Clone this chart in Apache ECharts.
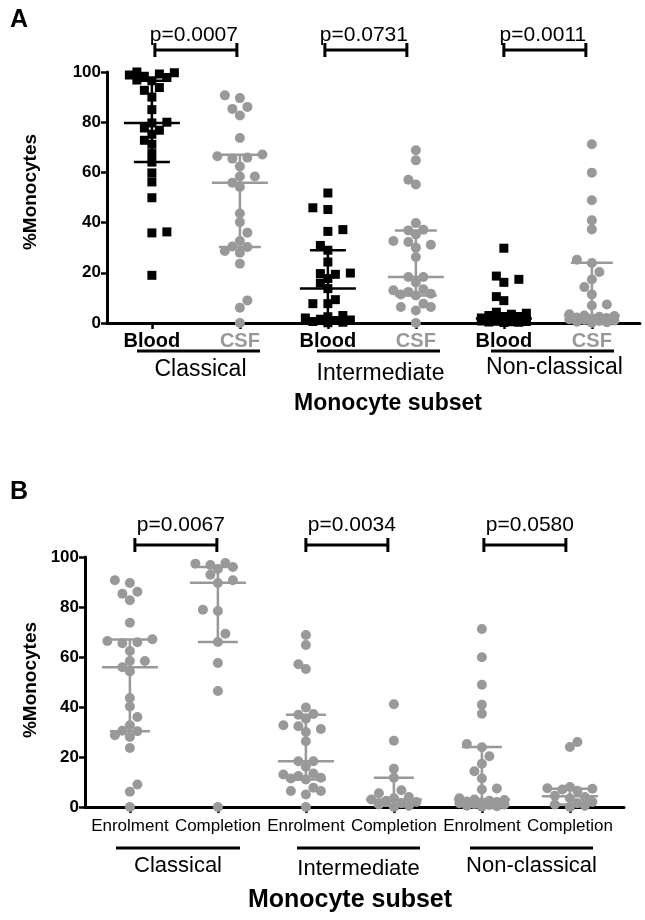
<!DOCTYPE html>
<html>
<head>
<meta charset="utf-8">
<script src="https://cdn.jsdelivr.net/npm/echarts@6/dist/echarts.min.js"></script>
<style>html,body{margin:0;padding:0;background:#fff}#c{width:645px;height:920px}</style>
</head>
<body>
<div id="c"></div>
<script>
// ---------- DATA ----------
const categoriesA = ['Blood', 'CSF', 'Blood', 'CSF', 'Blood', 'CSF'];
const categoriesB = ['Enrolment', 'Completion', 'Enrolment', 'Completion', 'Enrolment', 'Completion'];
const groupNames = ['Classical', 'Intermediate', 'Non-classical'];
const pValuesA = ['p=0.0007', 'p=0.0731', 'p=0.0011'];
const pValuesB = ['p=0.0067', 'p=0.0034', 'p=0.0580'];
const yTicks = [0, 20, 40, 60, 80, 100];

const classicalBlood = [100, 99.7, 99.2, 98.8, 98.3, 97.8, 96.8, 96.5, 93.8, 92.7, 90, 85, 80, 79.7, 77.7, 76.8, 75.2, 72.8, 71.2, 67.5, 64.1, 59.8, 56.2, 49.9, 36.3, 35.9, 19];
const classicalCSF = [90.7, 89.6, 86.1, 85.3, 82.7, 73.7, 67.1, 66.4, 65.9, 65.5, 62.4, 58.4, 58.4, 55.9, 54.2, 43.6, 40.2, 36, 32.7, 30.5, 30.3, 28.7, 28, 23.6, 9, 6.1, 0];
const intermediateBlood = [51.8, 45.9, 45.2, 37.2, 36.5, 30.9, 29, 24.3, 19.9, 19.7, 19.4, 17.7, 15.9, 13.7, 9.3, 7.7, 7.7, 3, 2.5, 2, 1.5, 1.2, 1, 0.6, 0.3, 0.1];
const intermediateCSF = [68.8, 64.8, 57.1, 55.2, 39.8, 37.2, 36.9, 35.3, 32.7, 32.3, 31.2, 30, 26.3, 18.3, 18.3, 16.1, 13.4, 13, 12.4, 11.7, 11.4, 11, 7.7, 6.4, 6.4, 5, 0];
const nonClassicalBlood = [29.8, 18.7, 17.4, 16.2, 10.5, 8.9, 4.3, 3.9, 3.5, 3, 2.5, 2.2, 2, 1.8, 1.5, 1.3, 1.1, 1, 0.9, 0.8, 0.7, 0.6, 0.5, 0.4, 0.3, 0.2];
const nonClassicalCSF = [71.2, 59.9, 48.9, 40.9, 37.3, 25.2, 23.9, 20.3, 17.3, 14.3, 11.4, 7.4, 7, 3.5, 3, 2.8, 2.5, 2.2, 2, 1.8, 1.5, 1.2, 1, 0.8, 0.5, 0.3, 0.1];

const classicalCompletion = [97.6, 97.3, 96.8, 96, 95.2, 92.9, 90.7, 89.6, 78.9, 78.4, 69.3, 66, 57.6, 46.4, 0];
const intermediateCompletion = [41.1, 26.5, 15.3, 11.7, 6.7, 5.5, 4, 3.5, 3, 2.5, 2, 1.5, 1, 0.5, 0];
const nonClassicalCompletion = [26, 24, 8, 7.5, 7.3, 7, 6.5, 4.5, 4, 3.5, 2, 1.5, 1, 0.5, 0];

// median, lower quartile, upper quartile per group
const medianA = [79.7, 55.9, 13.7, 18.3, 1.8, 3];
const q1A = [64.1, 30.3, 1.2, 11, 0.6, 1];
const q3A = [96.5, 67, 29, 36.9, 3.9, 24];
const medianB = [55.9, 89.7, 18.3, 3, 3, 4.3];
const q1B = [30.3, 66, 11, 0.5, 1, 1];
const q3B = [67, 96, 36.9, 11.7, 24, 7.3];

// ---------- LAYOUT ----------
const GA = {left: 107, top: 72, width: 533, height: 251, xmin: -0.51, xmax: 5.547};
const GB = {left: 85, top: 557, width: 539, height: 250, xmin: -0.51, xmax: 5.615};
const BLACK = '#000000', GRAY = '#999999';
const FONT = "'Liberation Sans', Arial, sans-serif";

function catPx(g) { return g.width / (g.xmax - g.xmin); }
function xPix(g, i) { return g.left + (i - g.xmin) * catPx(g); }

// beeswarm layout (pixel offsets) computed from the values
function swarmOffsets(vals, pxv) {
  const step = 7.5, diam = 8.5, maxK = 3;
  const order = vals.map((v, i) => i).sort((a, b) => vals[a] - vals[b]);
  const placed = [];
  const off = new Array(vals.length);
  let flip = 1;
  order.forEach(i => {
    const y = vals[i] * pxv;
    let chosen = null, best = -1, bestX = 0;
    for (let k = 0; k <= maxK && chosen === null; k++) {
      const cands = k === 0 ? [0] : [flip * k * step, -flip * k * step];
      for (const x of cands) {
        let md = Infinity;
        for (const p of placed) { const d = Math.hypot(p.x - x, p.y - y); if (d < md) md = d; }
        if (md >= diam) { chosen = x; break; }
        if (md > best) { best = md; bestX = x; }
      }
    }
    if (chosen === null) chosen = bestX;
    if (chosen !== 0) flip = -flip;
    off[i] = chosen;
    placed.push({x: chosen, y: y});
  });
  return off;
}

function points(groups, cats, g) {
  const pxv = g.height / 100, cp = catPx(g);
  const out = [];
  groups.forEach((vals, k) => {
    const off = swarmOffsets(vals, pxv);
    vals.forEach((v, i) => out.push([cats[k] + off[i] / cp, v]));
  });
  return out;
}

const groupsA = [classicalBlood, classicalCSF, intermediateBlood, intermediateCSF, nonClassicalBlood, nonClassicalCSF];
const groupsB = [classicalCSF, classicalCompletion, intermediateCSF, intermediateCompletion, nonClassicalCSF, nonClassicalCompletion];

function errData(cats, med, lo, hi) { return cats.map(c => [c, med[c], lo[c], hi[c]]); }

function errSeries(xi, yi, data, color, mw, cw) {
  return {
    type: 'custom', xAxisIndex: xi, yAxisIndex: yi, z: 5, silent: true,
    encode: {x: 0, y: [1, 2, 3]},
    data: data,
    renderItem: function (params, api) {
      const x = api.value(0);
      const pm = api.coord([x, api.value(1)]);
      const pl = api.coord([x, api.value(2)]);
      const ph = api.coord([x, api.value(3)]);
      const st = {stroke: color, lineWidth: 2.5};
      return {type: 'group', children: [
        {type: 'line', shape: {x1: pl[0], y1: pl[1], x2: ph[0], y2: ph[1]}, style: st},
        {type: 'line', shape: {x1: pl[0] - cw, y1: pl[1], x2: pl[0] + cw, y2: pl[1]}, style: st},
        {type: 'line', shape: {x1: ph[0] - cw, y1: ph[1], x2: ph[0] + cw, y2: ph[1]}, style: st},
        {type: 'line', shape: {x1: pm[0] - mw, y1: pm[1], x2: pm[0] + mw, y2: pm[1]}, style: st}
      ]};
    }
  };
}

function xAxisDef(gi, g, labelFmt, labelStyle, margin, rich) {
  return {
    type: 'value', gridIndex: gi, min: g.xmin, max: g.xmax,
    axisLine: {onZero: false, lineStyle: {color: BLACK, width: 3}},
    axisTick: {show: true, customValues: [0, 1, 2, 3, 4, 5], length: 6, lineStyle: {color: BLACK, width: 2.5}},
    axisLabel: Object.assign({customValues: [0, 1, 2, 3, 4, 5], margin: margin, formatter: labelFmt, rich: rich}, labelStyle),
    splitLine: {show: false}
  };
}
function yAxisDef(gi) {
  return {
    type: 'value', gridIndex: gi, min: 0, max: 100, interval: 20,
    axisLine: {show: true, onZero: false, lineStyle: {color: BLACK, width: 3}},
    axisTick: {show: true, length: 6, lineStyle: {color: BLACK, width: 2.5}},
    axisLabel: {color: BLACK, fontWeight: 'bold', fontSize: 17, fontFamily: FONT, margin: 6,
      formatter: v => yTicks.indexOf(v) >= 0 ? String(v) : ''},
    splitLine: {show: false}
  };
}

const graphics = [];
function txt(x, y, text, size, weight, color, opts) {
  graphics.push(Object.assign({type: 'text', x: x, y: y, style: {x: 0, y: 0, text: text, fill: color || BLACK,
    font: (weight || 'normal') + ' ' + size + 'px ' + FONT, textAlign: 'center', textVerticalAlign: 'middle'}}, opts || {}));
}
function line(x1, y1, x2, y2, w) {
  graphics.push({type: 'line', shape: {x1: x1, y1: y1, x2: x2, y2: y2}, style: {stroke: BLACK, lineWidth: w || 3}});
}
function bracket(x1, x2, y) {
  line(x1, y, x2, y, 3);
  line(x1, y - 7, x1, y + 7, 3);
  line(x2, y - 7, x2, y + 7, 3);
}

// panel letters & y names
txt(19, 20, 'A', 25, 'bold');
txt(19, 492, 'B', 25, 'bold');
txt(31, 192, '%Monocytes', 19, 'bold', BLACK, {rotation: Math.PI / 2});
txt(31, 680, '%Monocytes', 19, 'bold', BLACK, {rotation: Math.PI / 2});

// p-value brackets
[0, 1, 2].forEach(k => {
  const ax = xPix(GA, 2 * k) + [3, -3, 0][k];
  bracket(ax, ax + 82, 50);
  txt(ax + 39, 35, pValuesA[k], 21, 'normal');
  const bx = xPix(GB, 2 * k) + [5, 0, 2][k];
  bracket(bx, bx + 82, 545);
  txt(bx + 46, 525, pValuesB[k], 21, 'normal');
});

// group underlines and names
const grpA = [[137, 260], [317, 440], [491, 614]];
const grpAy = [370, 374, 368];
const grpB = [[116, 240], [297, 420], [470, 593]];
const grpBy = [866, 869, 866];
[0, 1, 2].forEach(k => {
  line(grpA[k][0], 351, grpA[k][1], 351, 3);
  txt((grpA[k][0] + grpA[k][1]) / 2 + 2, grpAy[k], groupNames[k], 23, 'normal');
  line(grpB[k][0], 848, grpB[k][1], 848, 3);
  txt((grpB[k][0] + grpB[k][1]) / 2, grpBy[k], groupNames[k], 22, 'normal');
});
txt(388, 404, 'Monocyte subset', 23, 'bold');
txt(350, 900, 'Monocyte subset', 25, 'bold');

const option = {
  animation: false,
  backgroundColor: '#ffffff',
  grid: [
    {left: GA.left, top: GA.top, width: GA.width, height: GA.height},
    {left: GB.left, top: GB.top, width: GB.width, height: GB.height}
  ],
  xAxis: [
    xAxisDef(0, GA, v => { const i = Math.round(v); return (i % 2 ? '{g|' : '{b|') + categoriesA[i] + '}'; },
      {}, 8, {b: {color: BLACK, fontWeight: 'bold', fontSize: 20, fontFamily: FONT},
              g: {color: GRAY, fontWeight: 'bold', fontSize: 20, fontFamily: FONT}}),
    xAxisDef(1, GB, v => categoriesB[Math.round(v)],
      {color: BLACK, fontSize: 17, fontFamily: FONT}, 11, {})
  ],
  yAxis: [yAxisDef(0), yAxisDef(1)],
  series: [
    {type: 'scatter', xAxisIndex: 0, yAxisIndex: 0, symbol: 'rect', symbolSize: 9, z: 2,
      itemStyle: {color: BLACK, opacity: 1},
      data: points([groupsA[0], groupsA[2], groupsA[4]], [0, 2, 4], GA)},
    {type: 'scatter', xAxisIndex: 0, yAxisIndex: 0, symbol: 'circle', symbolSize: 10, z: 2,
      itemStyle: {color: GRAY, opacity: 1},
      data: points([groupsA[1], groupsA[3], groupsA[5]], [1, 3, 5], GA)},
    {type: 'scatter', xAxisIndex: 1, yAxisIndex: 1, symbol: 'circle', symbolSize: 10, z: 2,
      itemStyle: {color: GRAY, opacity: 1},
      data: points(groupsB, [0, 1, 2, 3, 4, 5], GB)},
    errSeries(0, 0, errData([0, 2, 4], medianA, q1A, q3A), BLACK, 28, 18),
    errSeries(0, 0, errData([1, 3, 5], medianA, q1A, q3A), GRAY, 28, 21),
    errSeries(1, 1, errData([0, 1, 2, 3, 4, 5], medianB, q1B, q3B), GRAY, 28, 20)
  ],
  graphic: graphics
};

const chart = echarts.init(document.getElementById('c'), null, {renderer: 'canvas'});
chart.setOption(option);
</script>
</body>
</html>
